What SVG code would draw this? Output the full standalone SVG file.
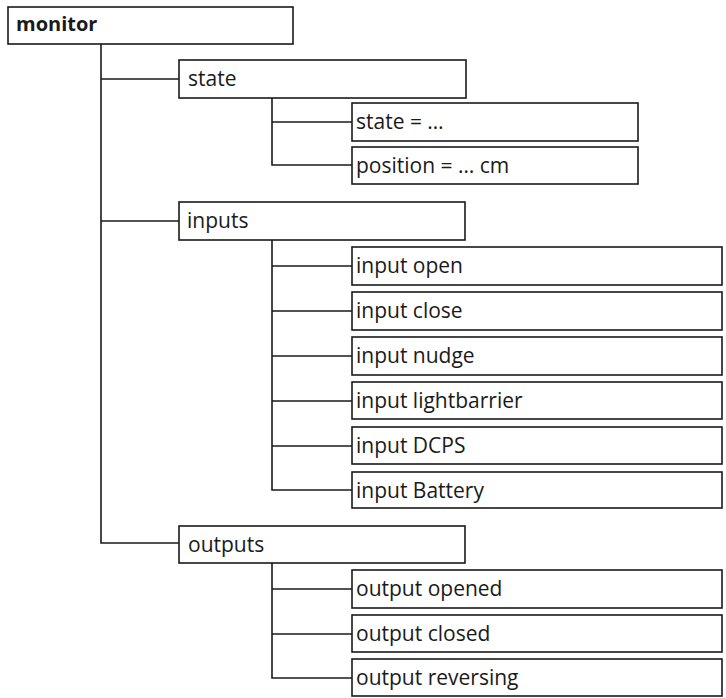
<svg xmlns="http://www.w3.org/2000/svg" width="726" height="698" viewBox="0 0 726 698">
<style>
rect{fill:#fff;stroke:#1a1a1a;stroke-width:1.6}
text{font-family:"Open Sans","Liberation Sans",sans-serif;font-size:21px;fill:#1a1a1a}
.b{font-weight:bold;font-size:20px}
.c line,.c path{stroke:#1a1a1a;stroke-width:1.6;fill:none}
</style>
<rect width="726" height="698" style="stroke:none"/>
<g class="c" id="connectors">
<path d="M101 44V543H179M101 79H179M101 221H179"/>
<path d="M272 98V165H352M272 122H352"/>
<path d="M272 240V490H352M272 266H352M272 311H352M272 356H352M272 401H352M272 446H352"/>
<path d="M272 563V678H352M272 589H352M272 634H352"/>
</g>
<g id="monitor"><rect x="8" y="7" width="285" height="37"/><text class="b" x="16" y="31">monitor</text></g>
<g id="state"><rect x="179" y="60" width="287" height="38"/><text x="188" y="86">state</text></g>
<g id="state-val"><rect x="352" y="103" width="286" height="38"/><text x="356" y="129">state = …</text></g>
<g id="position"><rect x="352" y="147" width="286" height="37"/><text x="356" y="173">position = … cm</text></g>
<g id="inputs"><rect x="179" y="202" width="286" height="38"/><text x="187" y="228">inputs</text></g>
<g id="input-open"><rect x="352" y="247" width="370" height="38"/><text x="356" y="273">input open</text></g>
<g id="input-close"><rect x="352" y="292" width="370" height="38"/><text x="356" y="318">input close</text></g>
<g id="input-nudge"><rect x="352" y="337" width="370" height="38"/><text x="356" y="363">input nudge</text></g>
<g id="input-lightbarrier"><rect x="352" y="382" width="370" height="37"/><text x="356" y="408">input lightbarrier</text></g>
<g id="input-dcps"><rect x="352" y="427" width="370" height="37"/><text x="356" y="453">input DCPS</text></g>
<g id="input-battery"><rect x="352" y="472" width="370" height="36"/><text x="356" y="498">input Battery</text></g>
<g id="outputs"><rect x="179" y="526" width="286" height="37"/><text x="188" y="552">outputs</text></g>
<g id="output-opened"><rect x="352" y="570" width="370" height="38"/><text x="356" y="596">output opened</text></g>
<g id="output-closed"><rect x="352" y="615" width="370" height="37"/><text x="356" y="641">output closed</text></g>
<g id="output-reversing"><rect x="352" y="659" width="370" height="37"/><text x="356" y="685">output reversing</text></g>
</svg>
